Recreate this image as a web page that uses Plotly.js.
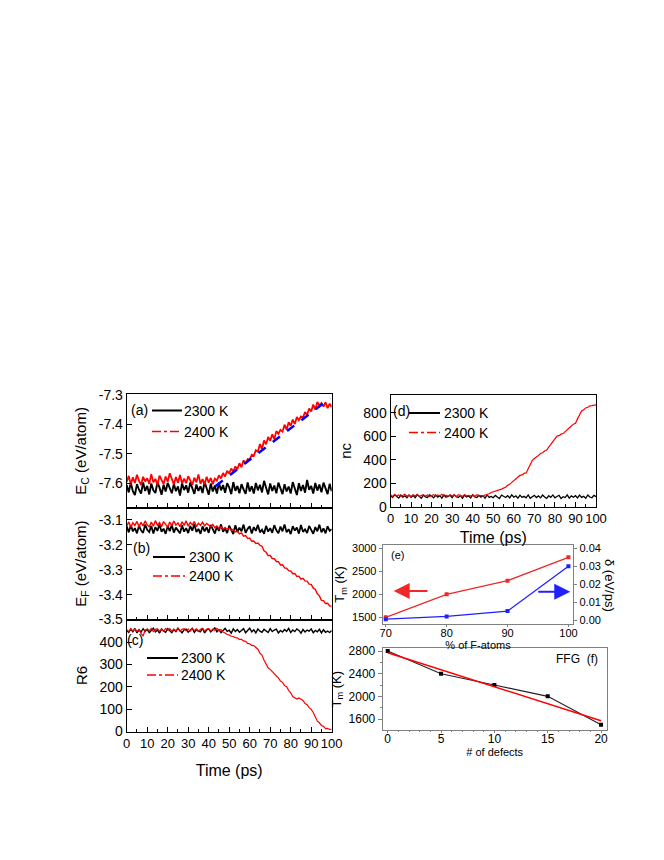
<!DOCTYPE html>
<html><head><meta charset="utf-8">
<script src="https://cdn.plot.ly/plotly-3.0.1.min.js"></script>
<style>html,body{margin:0;padding:0;background:#fff}</style>
</head><body><div id="chart" style="width:664px;height:860px"></div>
<script>
// ---------- DATA ----------
const time = [0,1,2,3,4,5,6,7,8,9,10,11,12,13,14,15,16,17,18,19,20,21,22,23,24,25,26,27,28,29,30,31,32,33,34,35,36,37,38,39,40,41,42,43,44,45,46,47,48,49,50,51,52,53,54,55,56,57,58,59,60,61,62,63,64,65,66,67,68,69,70,71,72,73,74,75,76,77,78,79,80,81,82,83,84,85,86,87,88,89,90,91,92,93,94,95,96,97,98,99,100];

// (a) cohesive energy E_C
const ec2300 = [-7.606,-7.631,-7.598,-7.627,-7.640,-7.603,-7.622,-7.635,-7.597,-7.626,
-7.609,-7.638,-7.601,-7.624,-7.633,-7.596,-7.615,-7.639,-7.605,-7.628,
-7.599,-7.618,-7.634,-7.602,-7.627,-7.611,-7.642,-7.600,-7.623,-7.607,
-7.632,-7.597,-7.620,-7.636,-7.604,-7.626,-7.610,-7.633,-7.595,-7.618,
-7.639,-7.601,-7.628,-7.608,-7.635,-7.598,-7.624,-7.606,-7.632,-7.600,
-7.614,-7.637,-7.596,-7.626,-7.609,-7.634,-7.603,-7.621,-7.636,-7.597,
-7.628,-7.610,-7.635,-7.599,-7.624,-7.605,-7.631,-7.592,-7.616,-7.638,
-7.601,-7.626,-7.608,-7.634,-7.598,-7.621,-7.637,-7.603,-7.628,-7.611,
-7.635,-7.596,-7.619,-7.640,-7.600,-7.626,-7.606,-7.632,-7.589,-7.622,
-7.609,-7.635,-7.599,-7.625,-7.604,-7.631,-7.598,-7.619,-7.637,-7.602,
-7.627];
const ec2400 = [-7.596,-7.575,-7.604,-7.580,-7.599,-7.571,-7.592,-7.606,-7.578,-7.594,
-7.583,-7.602,-7.569,-7.597,-7.585,-7.607,-7.574,-7.591,-7.603,-7.577,
-7.595,-7.566,-7.588,-7.604,-7.579,-7.598,-7.572,-7.601,-7.584,-7.600,
-7.576,-7.593,-7.605,-7.581,-7.597,-7.570,-7.602,-7.586,-7.604,-7.578,
-7.598,-7.582,-7.603,-7.584,-7.591,-7.573,-7.584,-7.565,-7.577,-7.558,
-7.567,-7.550,-7.560,-7.543,-7.552,-7.532,-7.546,-7.522,-7.533,-7.518,
-7.520,-7.503,-7.507,-7.488,-7.493,-7.467,-7.484,-7.455,-7.468,-7.443,
-7.456,-7.434,-7.450,-7.423,-7.432,-7.419,-7.425,-7.401,-7.418,-7.393,
-7.405,-7.384,-7.399,-7.375,-7.386,-7.373,-7.377,-7.358,-7.368,-7.346,
-7.356,-7.333,-7.350,-7.324,-7.337,-7.328,-7.340,-7.325,-7.345,-7.330,
-7.342];
const fitTime = [43.4, 99.2];
const fitEc = [-7.609, -7.311];

// (b) E_F
const ef2300 = [-3.126,-3.150,-3.121,-3.146,-3.133,-3.154,-3.123,-3.142,-3.152,-3.119,
-3.140,-3.149,-3.124,-3.155,-3.129,-3.144,-3.118,-3.148,-3.135,-3.156,
-3.125,-3.145,-3.120,-3.151,-3.131,-3.141,-3.154,-3.122,-3.147,-3.133,
-3.153,-3.124,-3.143,-3.117,-3.149,-3.136,-3.156,-3.126,-3.146,-3.130,
-3.152,-3.120,-3.140,-3.155,-3.127,-3.144,-3.118,-3.148,-3.134,-3.153,
-3.123,-3.142,-3.157,-3.121,-3.149,-3.131,-3.146,-3.119,-3.152,-3.136,
-3.126,-3.155,-3.129,-3.144,-3.120,-3.150,-3.139,-3.156,-3.124,-3.147,
-3.133,-3.152,-3.121,-3.142,-3.154,-3.127,-3.146,-3.118,-3.150,-3.137,
-3.157,-3.125,-3.143,-3.131,-3.155,-3.120,-3.148,-3.138,-3.153,-3.124,
-3.141,-3.156,-3.129,-3.146,-3.119,-3.150,-3.134,-3.154,-3.126,-3.144,
-3.137];
const ef2400 = [-3.125,-3.108,-3.129,-3.112,-3.122,-3.106,-3.127,-3.110,-3.124,-3.104,
-3.120,-3.128,-3.109,-3.125,-3.103,-3.121,-3.111,-3.127,-3.107,-3.119,
-3.129,-3.109,-3.123,-3.105,-3.121,-3.112,-3.127,-3.108,-3.122,-3.104,
-3.125,-3.110,-3.120,-3.106,-3.127,-3.113,-3.122,-3.109,-3.124,-3.114,
-3.123,-3.128,-3.118,-3.131,-3.124,-3.134,-3.127,-3.137,-3.130,-3.139,
-3.133,-3.142,-3.138,-3.148,-3.145,-3.156,-3.152,-3.165,-3.163,-3.175,
-3.173,-3.186,-3.185,-3.195,-3.193,-3.202,-3.206,-3.224,-3.230,-3.243,
-3.243,-3.255,-3.256,-3.267,-3.268,-3.281,-3.280,-3.293,-3.294,-3.304,
-3.305,-3.316,-3.315,-3.327,-3.326,-3.338,-3.335,-3.345,-3.346,-3.358,
-3.359,-3.374,-3.379,-3.397,-3.405,-3.423,-3.424,-3.436,-3.435,-3.445,
-3.447];

// (c) R6
const r6_2300 = [452,443,458,446,461,441,455,445,460,448,
457,442,452,462,446,454,440,459,450,444,
460,451,442,456,447,462,449,441,455,458,
444,452,461,443,456,448,446,462,441,454,
459,445,452,463,446,456,442,454,461,448,
453,440,459,447,456,444,454,460,442,452,
462,446,455,441,459,449,444,457,451,443,
460,447,454,458,441,452,445,456,448,461,
443,454,447,459,452,440,456,445,454,449,
459,442,452,446,457,441,455,444,449,443,
452];
const r6_2400 = [455,447,460,450,458,448,456,438,428,453,
459,451,461,447,457,460,450,458,448,461,
452,460,449,458,451,461,448,457,460,450,
458,449,461,452,459,448,457,461,450,458,
460,450,458,452,461,451,456,445,441,434,
432,426,425,420,419,412,412,405,403,394,
392,385,384,374,368,350,342,319,303,285,
278,266,259,248,240,226,220,205,200,184,
173,156,150,145,150,143,139,125,120,107,
99,85,67,46,39,27,23,13,14,9,
10];

// (d) nc
const nc2300 = [95,78,101,84,73,99,81,92,76,100,
80,96,77,103,86,72,98,84,79,101,
91,75,99,82,94,73,100,80,87,97,
77,102,85,78,96,71,99,82,92,75,
101,84,78,97,81,94,72,100,79,87,
76,96,82,70,99,85,78,94,75,101,
81,92,73,98,79,88,76,100,71,85,
96,78,92,75,99,82,71,94,79,100,
76,87,97,70,85,78,101,73,92,81,
94,75,99,79,88,72,100,82,76,96,
86];
const nc2400 = [102,88,105,92,100,86,97,106,89,98,
87,101,91,104,88,97,102,90,99,86,
96,103,89,100,92,105,87,98,90,102,
91,100,87,103,95,89,101,92,97,90,
99,88,102,91,97,90,100,104,110,121,
126,135,136,147,149,158,166,182,190,207,
220,238,249,266,270,283,287,322,356,394,
410,427,436,452,459,474,482,507,530,558,
580,600,604,617,622,639,653,677,686,702,
710,747,788,814,824,840,846,858,860,863,
866];

// (e) melting temperature and delta vs % of F-atoms
const pctF = [70, 80, 90, 100];
const tmPct = [1500, 2000, 2297, 2804];
const deltaPct = [0.0005, 0.002, 0.005, 0.030];

// (f) melting temperature vs number of defects
const defects = [0, 5, 10, 15, 20];
const tmDef = [2800, 2400, 2200, 2000, 1500];
const fitDef = [0, 20];
const fitTmDef = [2770, 1570];

// tick labels and legend labels
const ecTicks = [-7.6, -7.5, -7.4, -7.3];
const ecTickText = ['-7.6', '-7.5', '-7.4', '-7.3'];
const efTicks = [-3.5, -3.4, -3.3, -3.2, -3.1];
const efTickText = ['-3.5', '-3.4', '-3.3', '-3.2', '-3.1'];
const r6Ticks = [0, 100, 200, 300, 400];
const ncTicks = [0, 200, 400, 600, 800];
const seriesNames = ['2300 K', '2400 K'];

// ---------- LAYOUT HELPERS ----------
const W = 664, H = 860;
const px = v => v / W;
const py = v => 1 - v / H;
const FONT = 'Liberation Sans, Arial, Helvetica, sans-serif';
const RED = '#ff0000', BLACK = '#000000', BLUE = '#0000ff';

const traces = [
  {x: time, y: ec2300, xaxis: 'x', yaxis: 'y', mode: 'lines', name: seriesNames[0], line: {color: BLACK, width: 1.9}},
  {x: time, y: ec2400, xaxis: 'x', yaxis: 'y', mode: 'lines', name: seriesNames[1], line: {color: RED, width: 1.8}},
  {x: fitTime, y: fitEc, xaxis: 'x', yaxis: 'y', mode: 'lines', name: 'fit', line: {color: BLUE, width: 2.5, dash: 'dash'}},
  {x: time, y: ef2300, xaxis: 'x2', yaxis: 'y2', mode: 'lines', name: seriesNames[0], line: {color: BLACK, width: 1.8}},
  {x: time, y: ef2400, xaxis: 'x2', yaxis: 'y2', mode: 'lines', name: seriesNames[1], line: {color: RED, width: 1.4}},
  {x: time, y: r6_2300, xaxis: 'x3', yaxis: 'y3', mode: 'lines', name: seriesNames[0], line: {color: BLACK, width: 1.4}},
  {x: time, y: r6_2400, xaxis: 'x3', yaxis: 'y3', mode: 'lines', name: seriesNames[1], line: {color: RED, width: 1.2}},
  {x: time, y: nc2300, xaxis: 'x4', yaxis: 'y4', mode: 'lines', name: seriesNames[0], line: {color: BLACK, width: 1.3}},
  {x: time, y: nc2400, xaxis: 'x4', yaxis: 'y4', mode: 'lines', name: seriesNames[1], line: {color: RED, width: 1.2}},
  {x: pctF, y: tmPct, xaxis: 'x5', yaxis: 'y5', mode: 'lines+markers', name: 'Tm', line: {color: '#f02828', width: 1.3}, marker: {symbol: 'square', size: 4, color: '#f02828'}},
  {x: pctF, y: deltaPct, xaxis: 'x5', yaxis: 'y6', mode: 'lines+markers', name: 'delta', line: {color: '#2020ff', width: 1.3}, marker: {symbol: 'square', size: 4, color: '#2020ff'}},
  {x: defects, y: tmDef, xaxis: 'x6', yaxis: 'y7', mode: 'lines+markers', name: 'FFG', line: {color: '#222', width: 1.1}, marker: {symbol: 'square', size: 4, color: '#000'}},
  {x: fitDef, y: fitTmDef, xaxis: 'x6', yaxis: 'y7', mode: 'lines', name: 'fit', line: {color: RED, width: 1.5}}
];

function timeX(dom, anchor, labels, titleText, standoff) {
  const ax = {domain: dom, anchor: anchor, range: [0, 100], tick0: 0, dtick: 10,
    ticks: 'inside', ticklen: 5, tickwidth: 1, tickcolor: BLACK,
    minor: {dtick: 5, ticks: 'inside', ticklen: 3, tickcolor: BLACK},
    showline: true, mirror: true, linecolor: BLACK, linewidth: 1,
    showgrid: false, zeroline: false, showticklabels: labels,
    tickfont: {size: 13, color: BLACK}};
  if (titleText) ax.title = {text: titleText, font: {size: 16}, standoff: standoff};
  return ax;
}
function leftY(dom, anchor, range, vals, texts, titleText, standoff) {
  return {domain: dom, anchor: anchor, range: range, tickmode: 'array', tickvals: vals, ticktext: texts,
    ticks: 'inside', ticklen: 5, tickwidth: 1, tickcolor: BLACK,
    showline: true, mirror: true, linecolor: BLACK, linewidth: 1,
    showgrid: false, zeroline: false, tickfont: {size: 14, color: BLACK},
    title: {text: titleText, font: {size: 15}, standoff: standoff}};
}

const xA = [px(126.7), px(331.7)];
const xD = [px(390.5), px(596)];
const GRAY = '#808080';

const layout = {
  width: W, height: H,
  margin: {l: 0, r: 0, t: 0, b: 0},
  paper_bgcolor: '#fff', plot_bgcolor: 'rgba(0,0,0,0)',
  font: {family: FONT, color: BLACK},
  showlegend: false,
  xaxis: timeX(xA, 'y', false),
  yaxis: leftY([py(507.7), py(394)], 'x', [-7.683, -7.297], ecTicks, ecTickText, 'E<sub>C</sub> (eV/atom)', 8),
  xaxis2: timeX(xA, 'y2', false),
  yaxis2: leftY([py(619.5), py(507.7)], 'x2', [-3.5, -3.051], efTicks, efTickText, 'E<sub>F</sub> (eV/atom)', 8),
  xaxis3: timeX(xA, 'y3', true, 'Time (ps)', 14),
  yaxis3: leftY([py(731.5), py(619.5)], 'x3', [0, 501], r6Ticks, r6Ticks.map(String), 'R6', 8),
  xaxis4: timeX(xD, 'y4', true, 'Time (ps)', 6),
  yaxis4: leftY([py(506.7), py(395)], 'x4', [0, 950], ncTicks, ncTicks.map(String), 'nc', 8),
  xaxis5: {domain: [px(382.7), px(573.3)], anchor: 'y5', range: [69.5, 100.8], dtick: 10, tick0: 70,
    ticks: 'outside', ticklen: 2, tickcolor: GRAY, showline: true, mirror: true, linecolor: GRAY, linewidth: 1,
    showgrid: false, zeroline: false, tickfont: {size: 11}, ticklabelstandoff: -3,
    title: {text: '% of F-atoms', font: {size: 11}, standoff: 0}},
  yaxis5: {domain: [py(624), py(545)], anchor: 'x5', range: [1354, 3072], dtick: 500,
    ticks: 'outside', ticklen: 3, tickcolor: GRAY, showline: true, linecolor: GRAY, linewidth: 1,
    showgrid: false, zeroline: false, tickfont: {size: 11},
    title: {text: 'T<sub>m</sub> (K)', font: {size: 13}, standoff: 4}},
  yaxis6: {overlaying: 'y5', anchor: 'x5', side: 'right', range: [-0.0022, 0.0418], dtick: 0.01, tickformat: '.2f',
    ticks: 'outside', ticklen: 3, tickcolor: GRAY, showline: true, linecolor: GRAY, linewidth: 1,
    showgrid: false, zeroline: false, tickfont: {size: 11}},
  xaxis6: {domain: [px(382.7), px(606.7)], anchor: 'y7', range: [-0.47, 20.53], dtick: 5, tick0: 0,
    ticks: 'outside', ticklen: 2, tickcolor: GRAY, minor: {dtick: 1, ticks: 'outside', ticklen: 1, tickcolor: GRAY},
    showline: true, mirror: true, linecolor: GRAY, linewidth: 1,
    showgrid: false, zeroline: false, tickfont: {size: 12}, ticklabelstandoff: -4,
    title: {text: '# of defects', font: {size: 11}, standoff: 0}},
  yaxis7: {domain: [py(730), py(648.3)], anchor: 'x6', range: [1406, 2848], dtick: 400,
    ticks: 'outside', ticklen: 4, tickcolor: GRAY, minor: {dtick: 200, ticks: 'outside', ticklen: 2, tickcolor: GRAY},
    showline: true, mirror: true, linecolor: GRAY, linewidth: 1,
    showgrid: false, zeroline: false, tickfont: {size: 12},
    title: {text: 'T<sub>m</sub> (K)', font: {size: 13}, standoff: 4}},
  shapes: [],
  annotations: []
};

// legend-like samples (drawn in paper pixels)
function legendBlock(label, lx, ly, x0, x1, yBlack, yRed, tx) {
  layout.annotations.push({xref: 'paper', yref: 'paper', x: px(lx), y: py(ly), text: label, showarrow: false,
    xanchor: 'left', yanchor: 'middle', font: {size: 14}});
  layout.shapes.push({type: 'line', xref: 'paper', yref: 'paper', x0: px(x0), x1: px(x1), y0: py(yBlack), y1: py(yBlack), line: {color: BLACK, width: 2}});
  layout.shapes.push({type: 'line', xref: 'paper', yref: 'paper', x0: px(x0), x1: px(x1), y0: py(yRed), y1: py(yRed), line: {color: RED, width: 1.5, dash: 'dashdot'}});
  layout.annotations.push({xref: 'paper', yref: 'paper', x: px(tx), y: py(yBlack), text: seriesNames[0], showarrow: false,
    xanchor: 'left', yanchor: 'middle', font: {size: 14}});
  layout.annotations.push({xref: 'paper', yref: 'paper', x: px(tx), y: py(yRed), text: seriesNames[1], showarrow: false,
    xanchor: 'left', yanchor: 'middle', font: {size: 14}});
}
legendBlock('(a)', 129, 410, 152, 182, 410.5, 431.5, 182);
legendBlock('(b)', 131, 548, 153, 185, 557, 576, 187);
legendBlock('(c)', 125, 640, 147, 178, 658, 675, 179);
legendBlock('(d)', 391, 411, 409, 440, 413, 432.5, 442);

// panel (e) / (f) labels, right axis title, arrows
layout.annotations.push(
  {xref: 'paper', yref: 'paper', x: px(389), y: py(555), text: '(e)', showarrow: false, xanchor: 'left', yanchor: 'middle', font: {size: 11}},
  {xref: 'paper', yref: 'paper', x: px(600), y: py(659), text: 'FFG  (f)', showarrow: false, xanchor: 'right', yanchor: 'middle', font: {size: 12}},
  {xref: 'paper', yref: 'paper', x: px(610), y: py(585), text: 'δ (eV/ps)', textangle: 90, showarrow: false, xanchor: 'center', yanchor: 'middle', font: {size: 13}},
  {xref: 'x5', yref: 'y5', axref: 'x5', ayref: 'y5', x: 71.3, y: 2072, ax: 77.1, ay: 2072, text: '', showarrow: true,
    arrowhead: 2, arrowsize: 1.6, arrowwidth: 2, arrowcolor: '#f02828'},
  {xref: 'x5', yref: 'y6', axref: 'x5', ayref: 'y6', x: 100.3, y: 0.0158, ax: 94.8, ay: 0.0158, text: '', showarrow: true,
    arrowhead: 2, arrowsize: 1.6, arrowwidth: 2, arrowcolor: '#2020ff'}
);

Plotly.newPlot('chart', traces, layout, {displayModeBar: false, staticPlot: true});
</script>
</body></html>
